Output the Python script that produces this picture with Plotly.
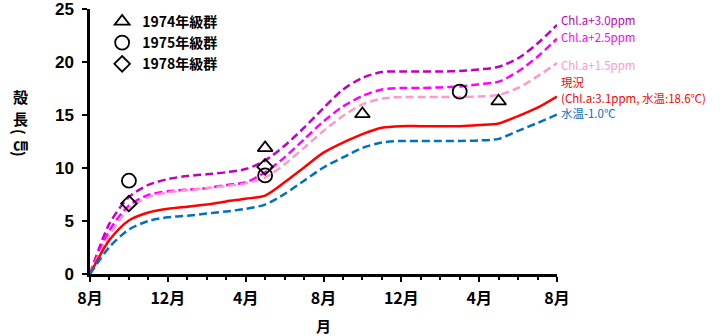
import plotly.graph_objects as go

# months since August (0..24)
months = list(range(25))
tick_vals = [0, 4, 8, 12, 16, 20, 24]
tick_text = ["8月", "12月", "4月", "8月", "12月", "4月", "8月"]

chl30 = [0, 4.75, 7.25, 8.4, 8.95, 9.25, 9.4, 9.6, 9.9, 10.7, 12.1, 13.8, 15.65,
         17.4, 18.5, 19.05, 19.1, 19.1, 19.1, 19.15, 19.3, 19.55, 20.35, 21.75, 23.5]
chl25 = [0, 4.1, 6.45, 7.45, 7.8, 7.95, 8.1, 8.4, 8.65, 9.6, 11.0, 12.7, 14.4,
         15.8, 16.8, 17.4, 17.55, 17.55, 17.6, 17.7, 17.9, 18.15, 19.1, 20.5, 22.2]
chl15 = [0, 3.65, 6.15, 7.25, 7.7, 7.9, 8.1, 8.3, 8.55, 9.1, 10.35, 11.9, 13.5,
         14.9, 16.0, 16.55, 16.7, 16.7, 16.7, 16.7, 16.75, 16.9, 17.55, 18.65, 19.9]
current = [0, 3.2, 5.05, 5.8, 6.15, 6.35, 6.55, 6.85, 7.1, 7.4, 8.65, 10.05, 11.45,
           12.4, 13.2, 13.8, 13.95, 13.95, 13.95, 13.95, 14.05, 14.2, 14.9, 15.7, 16.75]
temp_m1 = [0, 2.55, 4.2, 5.0, 5.35, 5.5, 5.7, 5.9, 6.15, 6.55, 7.55, 8.8, 10.05,
           11.0, 11.9, 12.4, 12.55, 12.55, 12.55, 12.55, 12.6, 12.75, 13.5, 14.25, 15.05]

obs1974_x = [9, 14, 21]
obs1974_y = [11.9, 15.1, 16.3]
obs1975_x = [2, 9, 19]
obs1975_y = [8.8, 9.3, 17.2]
obs1978_x = [2, 9]
obs1978_y = [6.65, 10.1]

FONT = "Noto Sans CJK JP"
NUMFONT = "Liberation Sans"

# plot area in pixels (for placing titles)
L, R, T, B = 90, 163, 9, 62
PW, PH = 720 - L - R, 336 - T - B

def px_to_paper(px, py):
    return (px - L) / PW, 1 - (py - T) / PH

fig = go.Figure()

curves = [
    (chl30, "#C000C0", "8px,4px"),
    (chl25, "#FF00FF", "8px,4px"),
    (chl15, "#FF99CC", "8px,4px"),
    (current, "#FF0000", "solid"),
    (temp_m1, "#0070C0", "8px,4px"),
]
for ys, col, dash in curves:
    fig.add_trace(go.Scatter(x=months, y=ys, mode="lines", showlegend=False,
                             line=dict(color=col, width=2.5, dash=dash,
                                       shape="spline", smoothing=0.8),
                             hoverinfo="skip"))

obs = [
    ("1974年級群", obs1974_x, obs1974_y, "triangle-up-open", 13),
    ("1975年級群", obs1975_x, obs1975_y, "circle-open", 14),
    ("1978年級群", obs1978_x, obs1978_y, "diamond-open", 12),
]
for name, xs, ys, sym, sz in obs:
    fig.add_trace(go.Scatter(x=xs, y=ys, mode="markers", name=name,
                             marker=dict(symbol=sym, size=sz, color="black",
                                         line=dict(color="black", width=1.8))))

labels = [
    ("Chl.a+3.0ppm", 23.95, "#C000C0"),
    ("Chl.a+2.5ppm", 22.35, "#FF00FF"),
    ("Chl.a+1.5ppm", 19.75, "#FF99CC"),
    ("現況", 18.1, "#FF0000"),
    ("(Chl.a:3.1ppm, 水温:18.6℃)", 16.65, "#FF0000"),
    ("水温-1.0℃", 15.2, "#0070C0"),
]
for txt, yv, col in labels:
    fig.add_annotation(x=24, y=yv, xref="x", yref="y", text=txt, showarrow=False,
                       xanchor="left", yanchor="middle", xshift=2,
                       font=dict(family=FONT, size=11.5, color=col))

ytitle = [("殻", 97, 0), ("長", 118, 0), ("(", 132, 90), ("㎝", 143, 0), (")", 154, 90)]
for ch, py, ang in ytitle:
    xp, yp = px_to_paper(20, py)
    fig.add_annotation(x=xp, y=yp, xref="paper", yref="paper", text=ch,
                       showarrow=False, xanchor="center", yanchor="middle",
                       textangle=ang,
                       font=dict(family=FONT, size=15, color="black", weight="bold"))

xp, yp = px_to_paper(323, 325)
fig.add_annotation(x=xp, y=yp, xref="paper", yref="paper", text="月",
                   showarrow=False, xanchor="center", yanchor="middle",
                   font=dict(family=FONT, size=15, color="black", weight="bold"))

fig.update_layout(
    width=720, height=336,
    margin=dict(l=L, r=R, t=T, b=B, autoexpand=False),
    paper_bgcolor="white", plot_bgcolor="white",
    showlegend=True,
    legend=dict(x=0.026, y=1.012, xanchor="left", yanchor="top",
                bgcolor="rgba(0,0,0,0)",
                font=dict(family=FONT, size=14, color="black", weight="bold"),
                itemwidth=30, tracegroupgap=0),
    xaxis=dict(range=[0, 24], tickvals=tick_vals, ticktext=tick_text,
               automargin=False,
               showline=True, linewidth=2.5, linecolor="black",
               ticks="outside", ticklen=5, tickwidth=2, tickcolor="black",
               ticklabelstandoff=3,
               minor=dict(tickmode="linear", tick0=0, dtick=1, ticks="outside",
                          ticklen=3, tickwidth=2, tickcolor="black", showgrid=False),
               showgrid=False, zeroline=False,
               tickfont=dict(family=FONT, size=16, color="black", weight="bold")),
    yaxis=dict(range=[0, 25.0001], tickvals=[0, 5, 10, 15, 20, 25],
               automargin=False, ticklabeloverflow="allow",
               showline=True, linewidth=2.5, linecolor="black",
               ticks="outside", ticklen=5, tickwidth=2, tickcolor="black",
               ticklabelstandoff=5,
               showgrid=False, zeroline=False,
               tickfont=dict(family=NUMFONT, size=17, color="black", weight="bold")),
)

fig.write_html("out.html")
